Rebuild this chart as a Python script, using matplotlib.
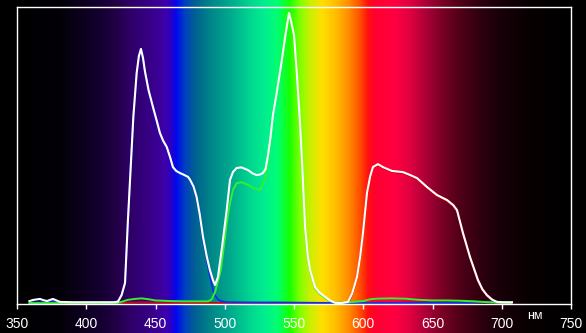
import numpy as np
import matplotlib
matplotlib.use("Agg")
import matplotlib.pyplot as plt
from matplotlib.colors import to_rgb

# ---------------- data ----------------
white_nm = [359, 362, 366.6, 369, 371.7, 374, 376, 378.5, 381, 390, 400, 410, 420, 422.9, 425.5, 428,
            430.1, 432.1, 434, 436.4, 438, 439.5, 441, 442.4, 445, 448.2, 451, 453.2, 455.5, 458.1,
            460.5, 462.6, 465, 467.7, 470.5, 473.5, 475, 477.5, 479.7, 482, 484.3, 487, 489.3, 491.5,
            493, 495.1, 498, 501.4, 503.8, 506, 508.6, 512, 516.8, 520, 523, 525.5, 527.6, 529.5,
            531.2, 533, 534.8, 537.5, 539.9, 541.8, 543.5, 545, 546.4, 548, 550, 552, 554.3, 555.8,
            558, 560, 561.6, 565.2, 568.5, 572.4, 576, 579.6, 584, 589, 592, 595.5, 597.8, 599.8,
            602.7, 605, 607, 610.6, 614.2, 620.7, 628.7, 633, 638.8, 646, 653.2, 660.5, 665, 667.7,
            672, 677.1, 682.8, 686, 689.3, 693, 696.6, 700, 707.4]
white_val = [1.0, 1.4, 1.7, 1.3, 1.0, 1.4, 1.7, 1.2, 0.7, 0.6, 0.6, 0.6, 0.6, 0.8, 3.0, 7.1,
             28.3, 46.1, 63.0, 77.8, 83.5, 85.9, 82.8, 78.3, 72.0, 66.3, 61.5, 57.6, 55.0, 52.9,
             49.5, 46.1, 44.8, 44.1, 43.5, 42.8, 41.8, 39.5, 36.0, 30.0, 22.6, 16.0, 11.4, 8.0,
             6.4, 9.1, 19.0, 31.6, 41.8, 44.5, 45.8, 46.0, 45.1, 44.0, 43.4, 43.6, 44.1, 45.5,
             50.0, 56.0, 63.6, 71.0, 78.1, 84.0, 89.6, 94.0, 98.0, 95.0, 90.6, 78.1, 61.3, 47.8,
             25.9, 16.0, 11.4, 5.7, 3.8, 2.4, 1.2, 0.4, 0.3, 0.7, 3.5, 9.1, 16.0, 23.9,
             37.4, 43.0, 46.1, 47.1, 46.1, 44.8, 44.4, 43.6, 42.4, 39.4, 36.7, 35.0, 33.3, 31.6,
             23.9, 15.8, 8.1, 5.0, 3.0, 1.5, 0.7, 0.6, 0.6]

green_nm = [359, 380, 400, 422, 426, 430, 435, 440, 445, 450, 460, 470, 480, 488, 490.5, 493, 495,
            497.2, 499, 501.4, 503.8, 506, 508.6, 512, 516.8, 521, 525.5, 529, 531.2, 533, 534.8,
            537.5, 539.9, 541.8, 543.5, 545, 546.4, 548, 550, 552, 554.3, 555.8, 558, 560, 561.6,
            565.2, 568.5, 572.4, 576, 580, 590, 600, 605, 610, 620, 630, 640, 650, 660, 670, 680,
            690, 700, 707]
green_val = [0.3, 0.3, 0.3, 0.3, 0.8, 1.4, 1.7, 1.9, 1.6, 1.2, 1.0, 0.9, 0.9, 0.9, 1.5, 4.0, 7.5,
             11.4, 18.0, 27.0, 34.0, 38.5, 40.7, 41.0, 40.1, 39.0, 38.4, 41.8, 48.0, 55.0, 63.0,
             70.5, 77.5, 83.5, 89.0, 93.5, 97.4, 94.5, 90.0, 77.5, 60.8, 47.3, 25.4, 15.5, 11.0,
             5.3, 3.4, 2.0, 1.0, 0.5, 0.6, 1.0, 1.6, 1.8, 1.9, 1.8, 1.4, 1.2, 1.2, 1.1, 0.9,
             0.6, 0.4, 0.3]

blue_nm = [359, 370, 376, 380, 385, 400, 422, 425.5, 428, 430.1, 432.1, 434, 436.4, 438, 439.5, 441,
           442.4, 445, 448.2, 451, 453.2, 455.5, 458.1, 460.5, 462.6, 465, 467.7, 470.5, 473.5, 475,
           477.5, 479.7, 482, 484.3, 487, 489.3, 491.5, 493, 495, 496.6, 501, 520, 540, 560, 580,
           600, 650, 680, 690, 700, 707]
blue_val = [0.5, 0.6, 1.0, 0.8, 0.3, 0.3, 0.4, 2.8, 6.8, 28.0, 45.8, 62.7, 77.5, 83.2, 85.6, 82.5,
            78.0, 71.7, 66.0, 61.2, 57.3, 54.7, 52.6, 49.2, 45.8, 44.5, 43.8, 43.2, 42.5, 41.5,
            39.2, 35.6, 29.4, 21.8, 14.8, 9.5, 4.7, 2.8, 1.6, 1.1, 0.6, 0.5, 0.5, 0.4, 0.3,
            0.3, 0.3, 0.5, 0.8, 0.7, 0.3]

red_nm = [359, 420, 430, 440, 450, 480, 540, 580, 589, 592, 595.5, 597.8, 599.8, 602.7, 605, 607,
          610.6, 614.2, 620.7, 628.7, 633, 638.8, 646, 653.2, 660.5, 665, 667.7, 672, 677.1, 682.8,
          686, 689.3, 693, 696.6, 700, 707]
red_val = [0.2, 0.2, 0.5, 0.6, 0.5, 0.3, 0.3, 0.2, 0.2, 3.2, 8.8, 15.7, 23.6, 37.1, 42.7, 45.8,
           46.8, 45.8, 44.5, 44.1, 43.3, 42.1, 39.1, 36.4, 34.7, 33.0, 31.3, 23.6, 15.5, 7.8,
           4.7, 2.7, 1.2, 0.4, 0.2, 0.2]

xticks = [350, 400, 450, 500, 550, 600, 650, 700, 750]
unit_label = "нм"

# spectrum background colour stops (nm, colour)
spec_nm = [337, 350, 381, 410, 420.8, 431.6, 446, 456.9, 462, 464.8, 471.3, 478.5, 489.3, 503.8,
           518.2, 529, 538.4, 547, 554.3, 561.5, 570.2, 579.6, 589, 597.6, 603.4, 608.5, 622.9,
           633.8, 644.6, 655.4, 669.8, 684.3, 698.7, 720.4, 750, 765]
spec_col = ['#000000', '#000000', '#030008', '#140030', '#220044', '#2e0066', '#370086', '#3f00a8',
            '#2400cc', '#0008f0', '#0040c0', '#006092', '#008488', '#00a88e', '#00d690', '#00ee90',
            '#00ff70', '#18ff00', '#80ff00', '#c8f000', '#ffe000', '#ffc000', '#ff9000', '#ff5000',
            '#ff1010', '#ff0030', '#ff0040', '#e00040', '#b00038', '#800028', '#500018', '#300010',
            '#180008', '#080002', '#000000', '#000000']

# ---------------- figure ----------------
W, H = 586, 333
fig = plt.figure(figsize=(W / 100, H / 100), dpi=100)
fig.patch.set_facecolor('black')

L, R, T, B = 17, 571, 7, 304
x0, x1 = 350, 750
scale = (x1 - x0) / (R - L)
bg_left = x0 - L * scale
bg_right = x0 + (W - L) * scale

axbg = fig.add_axes([0, 0, 1, 1])
grid = np.linspace(bg_left, bg_right, 1200)
rgb = np.array([to_rgb(c) for c in spec_col])
img = np.stack([np.interp(grid, spec_nm, rgb[:, k]) for k in range(3)], axis=-1)[None, :, :]
axbg.imshow(img, extent=[bg_left, bg_right, 0, 1], aspect='auto', interpolation='bilinear')
axbg.set_xlim(bg_left, bg_right)
axbg.set_ylim(0, 1)
axbg.axis('off')

ax = fig.add_axes([L / W, (H - B) / H, (R - L) / W, (B - T) / H])
ax.set_facecolor('none')
ax.plot(red_nm, red_val, color='#d00000', lw=1.4, solid_joinstyle='round')
ax.plot(blue_nm, blue_val, color='#1030e8', lw=1.4, solid_joinstyle='round')
ax.plot(green_nm, green_val, color='#30f030', lw=1.4, solid_joinstyle='round')
ax.plot(white_nm, white_val, color='white', lw=1.5, solid_joinstyle='round')
ax.set_xlim(x0, x1)
ax.set_ylim(0, 100)
ax.set_yticks([])
ax.set_xticks(xticks)
ax.set_xticklabels([str(t) for t in xticks])
for s in ax.spines.values():
    s.set_color('white')
    s.set_linewidth(1.0)
ax.tick_params(axis='x', colors='white', direction='out', length=3.5, width=1.0,
               labelsize=10, pad=5.5)
for lab in ax.get_xticklabels():
    lab.set_fontfamily(['Liberation Sans', 'DejaVu Sans'])
ax.annotate(unit_label, xy=(724, -0.042), xycoords=('data', 'axes fraction'),
            ha='center', va='center', color='white', fontsize=9,
            family=['Liberation Sans', 'DejaVu Sans'], annotation_clip=False)

fig.savefig('out.png', dpi=100, facecolor=fig.get_facecolor())
